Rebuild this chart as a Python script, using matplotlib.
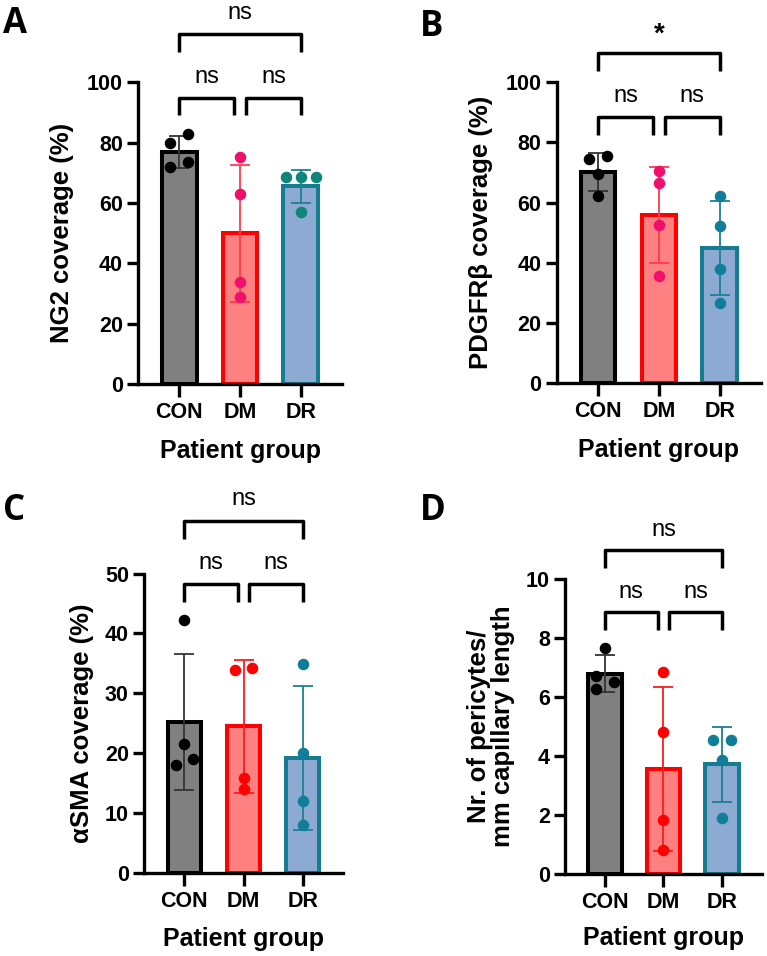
import matplotlib
matplotlib.use("Agg")
import matplotlib.pyplot as plt
import numpy as np

plt.rcParams['font.family'] = ['Liberation Sans', 'DejaVu Sans']
plt.rcParams['font.weight'] = 'bold'

groups = ["CON", "DM", "DR"]

# panel A - NG2 coverage (%)
ng2_mean = [77.0, 50.0, 65.5]
ng2_sd = [5.3, 22.6, 5.5]
ng2_points = [[82.9, 80.0, 72.0, 73.5], [75.2, 62.9, 33.9, 29.0], [68.7, 68.7, 68.7, 56.9]]
ng2_jitter = [[0.15, -0.15, -0.15, 0.15], [0, 0, 0, 0], [-0.25, 0, 0.25, 0]]

# panel B - PDGFRb coverage (%)
pdg_mean = [70.2, 56.0, 44.8]
pdg_sd = [6.2, 15.9, 15.6]
pdg_points = [[74.6, 75.5, 69.5, 62.2], [70.5, 66.6, 52.7, 35.6], [62.2, 52.2, 38.1, 26.6]]
pdg_jitter = [[-0.15, 0.15, 0, 0], [0, 0, 0, 0], [0, 0, 0, 0]]

# panel C - aSMA coverage (%)
sma_mean = [25.2, 24.5, 19.2]
sma_sd = [11.4, 11.1, 12.0]
sma_points = [[42.3, 21.5, 18.1, 19.1], [33.9, 34.3, 15.9, 14.0], [34.9, 20.1, 12.0, 8.0]]
sma_jitter = [[0, 0, -0.15, 0.15], [-0.15, 0.15, 0, 0], [0, 0, 0, 0]]

# panel D - pericytes per mm capillary length
per_mean = [6.8, 3.55, 3.72]
per_sd = [0.62, 2.78, 1.27]
per_points = [[7.68, 6.73, 6.53, 6.28], [6.84, 4.81, 1.82, 0.80], [4.55, 4.55, 3.88, 1.88]]
per_jitter = [[0, -0.15, 0.15, -0.15], [0, 0, 0, 0], [-0.15, 0.15, 0, 0]]

# significance labels: (CON vs DR, CON vs DM, DM vs DR)
sig_A = ["ns", "ns", "ns"]
sig_B = ["*", "ns", "ns"]
sig_C = ["ns", "ns", "ns"]
sig_D = ["ns", "ns", "ns"]

fill = ["#808080", "#FF8080", "#8DAAD3"]
edge = ["#000000", "#FF0000", "#167C90"]


def panel(rect, mean, sd, points, jitter, ymax, yticks, ylabel, sig,
          top_y, low_y, letter, letter_xy, pt_cols, err_cols, ylab_x):
    ax = fig.add_axes(rect)
    x = np.arange(3)
    ax.bar(x, mean, width=0.57, color=fill, edgecolor=edge, linewidth=2.9, zorder=2)
    for i in range(3):
        ax.errorbar(x[i], mean[i], yerr=sd[i], color=err_cols[i], capsize=7.5,
                    elinewidth=1.3, capthick=1.3, zorder=3)
        ax.plot(x[i] + np.array(jitter[i]), points[i], 'o', color=pt_cols[i],
                markersize=7.3, zorder=4, clip_on=False)
    ax.set_xlim(-0.68, 2.68)
    ax.set_ylim(0, ymax)
    ax.set_yticks(yticks)
    ax.set_xticks(x)
    ax.set_xticklabels(groups)
    for s in ['top', 'right']:
        ax.spines[s].set_visible(False)
    for s in ['left', 'bottom']:
        ax.spines[s].set_linewidth(2.4)
    ax.tick_params(axis='both', width=2.4, labelsize=15.5)
    ax.tick_params(axis='x', length=9, pad=4)
    ax.tick_params(axis='y', length=8, pad=3)
    ax.set_ylabel(ylabel, fontsize=18.5, fontweight='bold', linespacing=1.0)
    ax.yaxis.set_label_coords(ylab_x, 0.5)
    ax.text(0.5, -0.243, "Patient group", transform=ax.transAxes, ha='center',
            va='baseline', fontsize=18, fontweight='bold')

    # brackets
    h_top, leg_top, txt_top = top_y
    h_low, leg_low, txt_low = low_y
    kw = dict(color='black', lw=2.5, clip_on=False, solid_capstyle='butt')
    ax.plot([0, 0, 2, 2], [leg_top, h_top, h_top, leg_top], **kw)
    ax.plot([0, 0, 0.9, 0.9], [leg_low, h_low, h_low, leg_low], **kw)
    ax.plot([1.1, 1.1, 2, 2], [leg_low, h_low, h_low, leg_low], **kw)
    for txt, xx, yy in [(sig[0], 1.0, txt_top), (sig[1], 0.45, txt_low), (sig[2], 1.55, txt_low)]:
        if txt == "*":
            ax.text(xx, yy, txt, ha='center', va='baseline', fontsize=20,
                    fontweight='bold', clip_on=False)
        else:
            ax.text(xx, yy, txt, ha='center', va='baseline', fontsize=17,
                    fontweight='normal', clip_on=False)

    fig.text(letter_xy[0], letter_xy[1], letter, fontsize=25, fontweight='bold',
             family=['Open Sans', 'DejaVu Sans'], ha='left', va='baseline')
    return ax


fig = plt.figure(figsize=(7.67, 9.56), dpi=100)

panel([0.180, 0.598, 0.266, 0.316], ng2_mean, ng2_sd, ng2_points, ng2_jitter,
      100, [0, 20, 40, 60, 80, 100], "NG2 coverage (%)", sig_A,
      (115.9, 110.0, 120.8), (94.7, 89.0, 99.7), "A", (0.004, 0.966),
      ["#000000", "#F0106C", "#0F857A"], ["#333333", "#FF3A4A", "#1E7F92"], -0.314)

panel([0.726, 0.599, 0.266, 0.315], pdg_mean, pdg_sd, pdg_points, pdg_jitter,
      100, [0, 20, 40, 60, 80, 100], "PDGFRβ coverage (%)", sig_B,
      (109.6, 103.7, 113.5), (88.4, 82.4, 93.4), "B", (0.548, 0.962),
      ["#000000", "#F0106C", "#107E98"], ["#333333", "#FF3A4A", "#1E7F92"], -0.314)

panel([0.188, 0.087, 0.259, 0.313], sma_mean, sma_sd, sma_points, sma_jitter,
      50, [0, 10, 20, 30, 40, 50], "αSMA coverage (%)", sig_C,
      (58.8, 55.8, 61.4), (48.2, 45.3, 50.7), "C", (0.004, 0.456),
      ["#000000", "#FF0000", "#107E98"], ["#333333", "#FF1A1A", "#1E7F92"], -0.251)

panel([0.737, 0.086, 0.256, 0.308], per_mean, per_sd, per_points, per_jitter,
      10, [0, 2, 4, 6, 8, 10], "Nr. of pericytes/\nmm capillary length", sig_D,
      (10.99, 10.39, 11.48), (8.88, 8.28, 9.36), "D", (0.548, 0.456),
      ["#000000", "#FF0000", "#107E98"], ["#333333", "#FF1A1A", "#1E7F92"], -0.254)

plt.savefig("out.png", dpi=100)
